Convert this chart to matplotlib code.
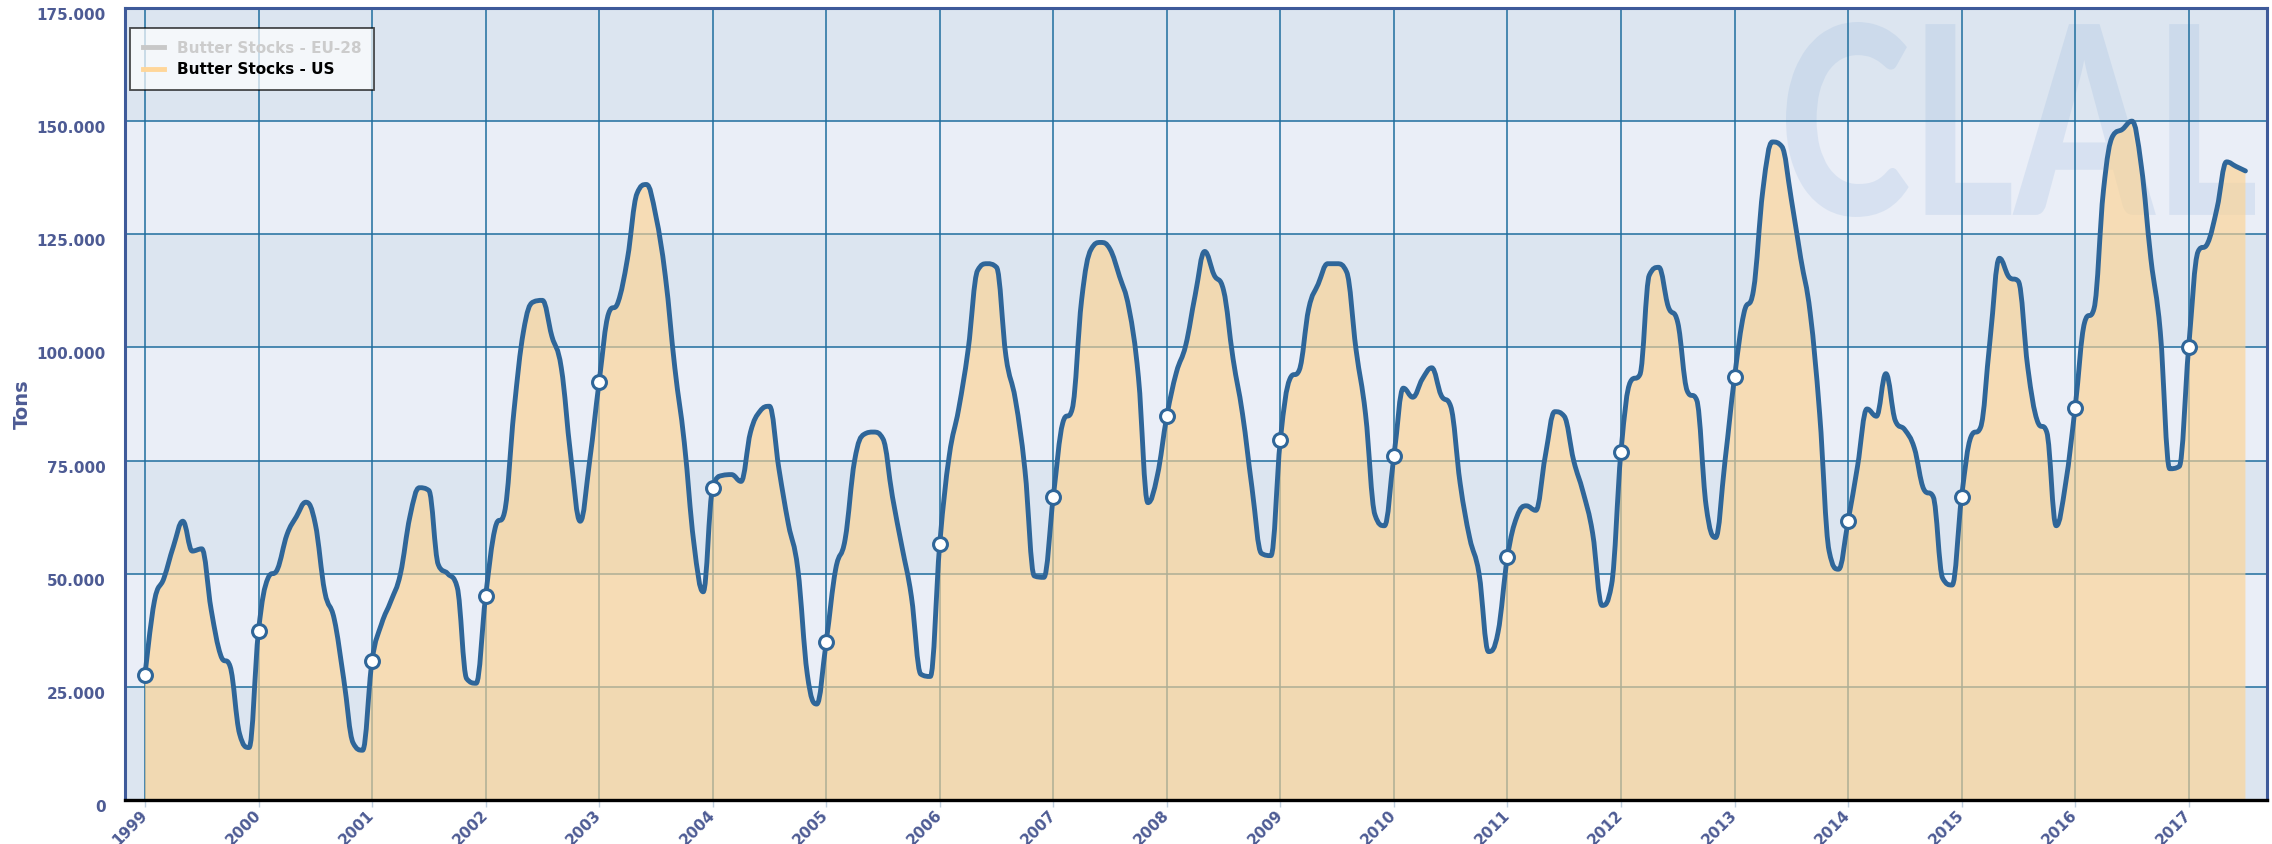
import numpy as np
import matplotlib
matplotlib.use("Agg")
import matplotlib.pyplot as plt
from matplotlib.path import Path
from matplotlib.patches import PathPatch
from matplotlib.lines import Line2D
from matplotlib.textpath import TextPath
from matplotlib.font_manager import FontProperties
import matplotlib.transforms as mtransforms

# monthly US butter stocks (tons), Jan 1999 .. Jul 2017
first_year = 1999
us_stocks = [
    27600, 44000, 49000, 56000, 61600, 55000, 55500, 42000, 32000, 29500, 14600, 11600,   # 1999
    37400, 49000, 51000, 58600, 62600, 65800, 61000, 46000, 40000, 26800, 12600, 11000,   # 2000
    30800, 38900, 44000, 50000, 62600, 69000, 68400, 52000, 50000, 47000, 26800, 25800,   # 2001
    45000, 60000, 63600, 86000, 103500, 110000, 110400, 102500, 95500, 76000, 61600, 75000,  # 2002
    92400, 107500, 110000, 119700, 134000, 136000, 129000, 115700, 95500, 79000, 57000, 46000,  # 2003
    69000, 71700, 71900, 70400, 81300, 85900, 87000, 73200, 61000, 51000, 27800, 21200,   # 2004
    35000, 51000, 57600, 75000, 80800, 81300, 79800, 67000, 56000, 45000, 27800, 27300,   # 2005
    56600, 76000, 86400, 99500, 117000, 118500, 117700, 98000, 88400, 73000, 49500, 49200,  # 2006
    67000, 83300, 86400, 110600, 121700, 123200, 121700, 115700, 108600, 93400, 65700, 71700,  # 2007
    84800, 94400, 100500, 111600, 121200, 116000, 112600, 97500, 85300, 69000, 54500, 54000,  # 2008
    79600, 93000, 95000, 108600, 114000, 118500, 118500, 116700, 99500, 85300, 63000, 60600,  # 2009
    76000, 91000, 89000, 93000, 95500, 89400, 87000, 70000, 58000, 50000, 32800, 37000,   # 2010
    53700, 62600, 65000, 64000, 76000, 85800, 84800, 75000, 68000, 59000, 43000, 47500,   # 2011
    77000, 92400, 94000, 116000, 117700, 109000, 105500, 90400, 88400, 65000, 58000, 75000,  # 2012
    93400, 107600, 112600, 134800, 145400, 144400, 132800, 119700, 107600, 85300, 55000, 51000,  # 2013
    61600, 73700, 86400, 84800, 94200, 83800, 81800, 77800, 68700, 67000, 49000, 47500,   # 2014
    67000, 80300, 82300, 101500, 119700, 115600, 114600, 95500, 83800, 81300, 60600, 70000,  # 2015
    86700, 105500, 108600, 134800, 146800, 148200, 150000, 140000, 119700, 103500, 73200, 73700,  # 2016
    100000, 121200, 123000, 130800, 141000, 140000, 139000,   # 2017
]
year_ticks = list(range(1999, 2018))
y_ticks = [0, 25000, 50000, 75000, 100000, 125000, 150000, 175000]
eu_label = "Butter Stocks - EU-28"
us_label = "Butter Stocks - US"

LINE_C = "#2F6699"
FILL_C = "#FED390"
TEXT_C = "#4D5B94"
GRID_C = "#1F6E9E"

x = first_year + np.arange(len(us_stocks)) / 12.0
y = np.array(us_stocks, dtype=float)


def spline_path(xs, ys, smoothing=1.5):
    # highcharts style spline: bezier control points from neighbours
    denom = smoothing + 1
    n = len(xs)
    verts = [(xs[0], ys[0])]
    codes = [Path.MOVETO]
    right = [(xs[0], ys[0])] * n
    for i in range(n):
        px, py = xs[i], ys[i]
        lcx, lcy = px, py
        if 0 < i < n - 1:
            lx, ly = xs[i - 1], ys[i - 1]
            nx, ny = xs[i + 1], ys[i + 1]
            lcx = (smoothing * px + lx) / denom
            lcy = (smoothing * py + ly) / denom
            rcx = (smoothing * px + nx) / denom
            rcy = (smoothing * py + ny) / denom
            corr = (rcy - lcy) * (rcx - px) / (rcx - lcx) + py - rcy
            lcy += corr
            rcy += corr
            if lcy > ly and lcy > py:
                lcy = max(ly, py); rcy = 2 * py - lcy
            elif lcy < ly and lcy < py:
                lcy = min(ly, py); rcy = 2 * py - lcy
            if rcy > ny and rcy > py:
                rcy = max(ny, py); lcy = 2 * py - rcy
            elif rcy < ny and rcy < py:
                rcy = min(ny, py); lcy = 2 * py - rcy
            right[i] = (rcx, rcy)
        else:
            right[i] = (px, py)
        if i > 0:
            verts += [right[i - 1], (lcx, lcy), (px, py)]
            codes += [Path.CURVE4] * 3
    return verts, codes


fig = plt.figure(figsize=(22.72, 8.44), dpi=100)
fig.patch.set_facecolor("white")
ax = fig.add_axes([125 / 2272, 44 / 844, 2142 / 2272, 792 / 844])
ax.set_xlim(1998.824, 2017.69)
ax.set_ylim(0, 175000)
ax.set_facecolor("#EAEEF7")

# alternate bands
for k in range(len(y_ticks) - 1):
    if k % 2 == 0:
        ax.axhspan(y_ticks[k], y_ticks[k + 1], color="#DCE5F0", lw=0, zorder=0.1)

# watermark logo
tp = TextPath((0, 0), "CLAL", size=1, prop=FontProperties(family="Lato", weight="black"))
ext = tp.get_extents()
lx0, ly0, lw, lh = 1786 / 2272, (844 - 217) / 844, 469 / 2272, 195 / 844
logo_tr = (mtransforms.Affine2D().translate(-ext.x0, -ext.y0)
           .scale(lw / ext.width, lh / ext.height).translate(lx0, ly0) + fig.transFigure)
ax.add_patch(PathPatch(tp, transform=logo_tr, facecolor="#7FA6D6", edgecolor="none",
                       alpha=0.17, zorder=0.2))

ax.set_axisbelow(True)
ax.grid(True, color=GRID_C, lw=1.1)

verts, codes = spline_path(x, y)
ax.add_patch(PathPatch(Path(verts, codes), facecolor="none", edgecolor=LINE_C, lw=3.5,
                       capstyle="round", joinstyle="round", zorder=3))
fverts = verts + [(x[-1], 0), (x[0], 0), (x[0], y[0])]
fcodes = codes + [Path.LINETO, Path.LINETO, Path.CLOSEPOLY]
ax.add_patch(PathPatch(Path(fverts, fcodes), facecolor=FILL_C, edgecolor="none",
                       alpha=0.64, zorder=1))

jan = np.arange(0, len(y), 12)
ax.plot(x[jan], y[jan], "o", ms=10, mfc="white", mec=LINE_C, mew=2.2, zorder=4)

ax.set_xticks(year_ticks)
ax.set_xticklabels([str(v) for v in year_ticks], rotation=45, ha="right", va="center",
                   rotation_mode="anchor", fontsize=11, fontweight="bold", color=TEXT_C)
ax.tick_params(axis="x", length=5, color="#C0D0E0", width=1, pad=4)
ax.set_yticks(y_ticks)
ax.set_yticklabels([f"{v:,}".replace(",", ".") for v in y_ticks], fontsize=11,
                   fontweight="bold", color=TEXT_C)
ax.tick_params(axis="y", length=0, pad=14)
shift = mtransforms.ScaledTranslation(0, -0.06, fig.dpi_scale_trans)
for lab in ax.get_yticklabels():
    lab.set_transform(lab.get_transform() + shift)

ax.set_ylabel("Tons", fontsize=14, fontweight="bold", color=TEXT_C)
ax.yaxis.set_label_coords(-0.0434, 0.5)

for side in ["left", "top", "right"]:
    ax.spines[side].set_color("#3E5A9A")
    ax.spines[side].set_linewidth(2.2)
ax.spines["bottom"].set_color("black")
ax.spines["bottom"].set_linewidth(2.4)

handles = [Line2D([], [], color="#C8C8C8", lw=3.5), Line2D([], [], color="#FFD699", lw=3.5)]
leg = ax.legend(handles, [eu_label, us_label], loc="upper left",
                bbox_to_anchor=(0.0023, 0.975), borderaxespad=0, fancybox=False,
                framealpha=0.7, facecolor="white", edgecolor="black",
                prop=FontProperties(family="DejaVu Sans", weight="bold", size=11),
                handlelength=1.4, handletextpad=0.8, labelspacing=0.4,
                borderpad=0.85)
leg.get_frame().set_linewidth(1.3)
leg.set_zorder(6)
leg.get_texts()[0].set_color("#CCCCCC")
leg.get_texts()[1].set_color("black")

fig.savefig("out.png", dpi=100)
